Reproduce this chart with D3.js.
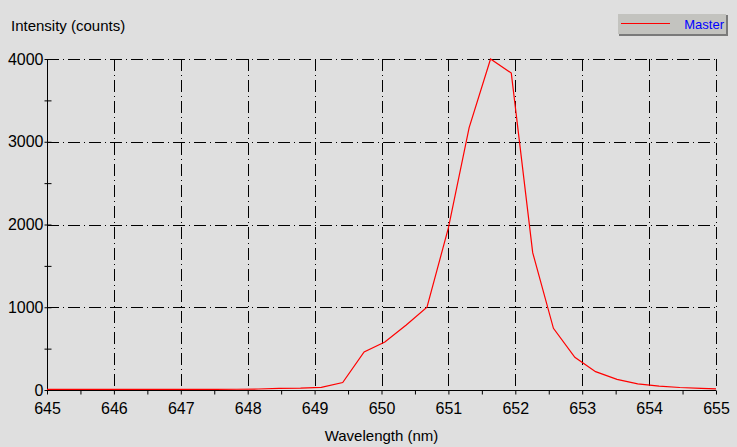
<!DOCTYPE html>
<html>
<head>
<meta charset="utf-8">
<script src="https://cdn.jsdelivr.net/npm/d3@7"></script>
<style>
  body { margin: 0; background: #dfdfdf; }
  svg { display: block; font-family: "Liberation Sans", Arial, sans-serif; }
</style>
</head>
<body>
<div id="chart"></div>
<script>
// spectrum
var wavelengths = [645.00, 645.32, 645.63, 645.95, 646.26, 646.58, 646.89, 647.21, 647.52, 647.84,
                   648.16, 648.47, 648.79, 649.10, 649.42, 649.74, 650.05, 650.37, 650.68, 651.00,
                   651.31, 651.63, 651.94, 652.26, 652.57, 652.89, 653.20, 653.52, 653.83, 654.15,
                   654.46, 654.78, 655.00];
var counts = [8, 8, 8, 8, 8, 8, 8, 8, 8, 9,
              12, 20, 22, 32, 90, 460, 580, 785, 1000, 1960,
              3170, 4000, 3830, 1660, 745, 395, 222, 128, 75, 48,
              30, 20, 14];

var xTicks = [645, 646, 647, 648, 649, 650, 651, 652, 653, 654, 655],
    xMinor = [645.5, 646.5, 647.5, 648.5, 649.5, 650.5, 651.5, 652.5, 653.5, 654.5],
    yTicks = [0, 1000, 2000, 3000, 4000],
    yMinor = [500, 1500, 2500, 3500];

var seriesName = "Master";

var W = 737, H = 447;
var margin = {top: 59, right: 21, bottom: 57, left: 47},
    width = W - margin.left - margin.right,
    height = H - margin.top - margin.bottom;

var x = d3.scaleLinear().domain([645, 655]).range([0, width]);
var y = d3.scaleLinear().domain([0, 4000]).range([height, 0]);

var svg = d3.select("#chart").append("svg")
    .attr("width", W)
    .attr("height", H);

svg.append("rect").attr("width", W).attr("height", H).attr("fill", "#dfdfdf");

var g = svg.append("g")
    .attr("transform", "translate(" + margin.left + "," + margin.top + ")");

var dash = "12,4,1,4";

// grid
g.selectAll(".vgrid")
    .data(xTicks.slice(1))
  .enter().append("line")
    .attr("x1", function(d) { return Math.round(x(d)) + 0.5; })
    .attr("x2", function(d) { return Math.round(x(d)) + 0.5; })
    .attr("y1", 0).attr("y2", height)
    .attr("stroke", "#000")
    .attr("stroke-dasharray", dash);

g.selectAll(".hgrid")
    .data(yTicks.slice(1))
  .enter().append("line")
    .attr("y1", function(d) { return Math.round(y(d)) + 0.5; })
    .attr("y2", function(d) { return Math.round(y(d)) + 0.5; })
    .attr("x1", 0).attr("x2", width)
    .attr("stroke", "#000")
    .attr("stroke-dasharray", dash);

// axes
var xAxis = g.append("g")
    .attr("transform", "translate(0," + (height + 0.5) + ")")
    .call(d3.axisBottom(x).tickValues(xTicks.concat(xMinor)).tickSize(4).tickPadding(8)
      .tickFormat(function(d) { return xTicks.indexOf(d) >= 0 ? d3.format("d")(d) : ""; }));
xAxis.select(".domain").attr("d", "M0,0H" + width).attr("stroke", "#000");
xAxis.selectAll(".tick line").attr("y1", 0).attr("stroke", "#000");
xAxis.selectAll(".tick text").attr("font-size", 16).attr("fill", "#000")
    .attr("font-family", "Liberation Sans, Arial, sans-serif");

var yAxis = g.append("g")
    .attr("transform", "translate(0.5,0)")
    .call(d3.axisLeft(y).tickValues(yTicks.concat(yMinor)).tickSize(3).tickPadding(1)
      .tickFormat(function(d) { return yTicks.indexOf(d) >= 0 ? d : ""; }));
yAxis.select(".domain").attr("d", "M0," + height + "V0").attr("stroke", "#000");
yAxis.selectAll(".tick line").attr("x1", -3).attr("x2", 4).attr("stroke", "#000");
yAxis.selectAll(".tick text").attr("font-size", 16).attr("fill", "#000")
    .attr("font-family", "Liberation Sans, Arial, sans-serif");

// spectrum
var line = d3.line()
    .x(function(d, i) { return x(wavelengths[i]); })
    .y(function(d) { return y(d); });

g.append("path")
    .datum(counts)
    .attr("fill", "none")
    .attr("stroke", "#ff0000")
    .attr("stroke-width", 1.2)
    .attr("d", line);

// titles
svg.append("text")
    .attr("x", 11).attr("y", 31)
    .attr("font-size", 15).attr("fill", "#000")
    .text("Intensity (counts)");

svg.append("text")
    .attr("x", margin.left + width / 2).attr("y", 441)
    .attr("text-anchor", "middle")
    .attr("font-size", 15).attr("fill", "#000")
    .text("Wavelength (nm)");

// legend
var lg = svg.append("g").attr("transform", "translate(618,14)");
lg.append("rect").attr("x", 1).attr("y", 1).attr("width", 109).attr("height", 21).attr("fill", "#7a7a7a");
lg.append("rect").attr("width", 108).attr("height", 20).attr("fill", "#c3c3bf");
lg.append("line").attr("x1", 3).attr("x2", 52).attr("y1", 9.5).attr("y2", 9.5)
    .attr("stroke", "#ff0000");
lg.append("text").attr("x", 106).attr("y", 15)
    .attr("text-anchor", "end")
    .attr("font-size", 13).attr("fill", "#0000ff")
    .text(seriesName);
</script>
</body>
</html>
